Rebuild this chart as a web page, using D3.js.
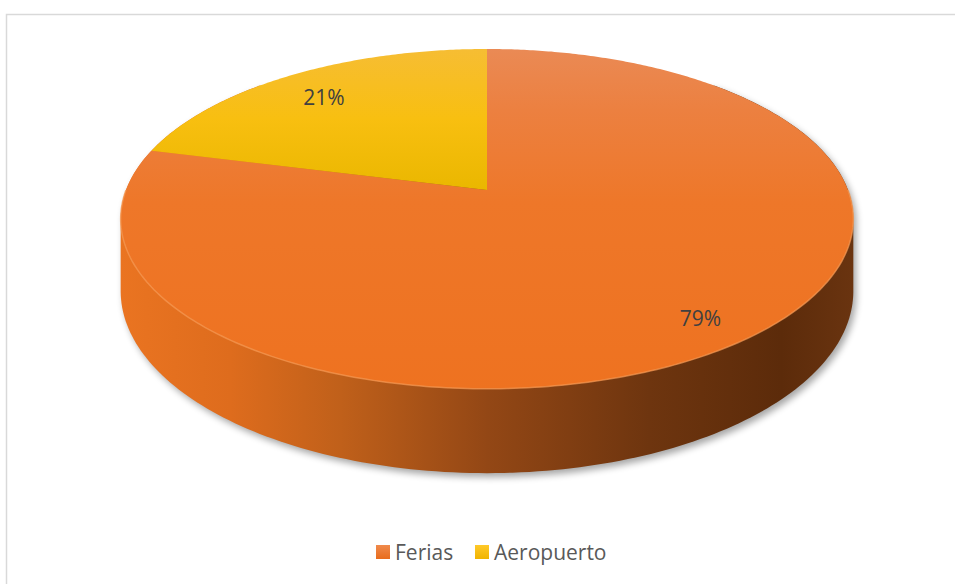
<!DOCTYPE html>
<html>
<head>
<meta charset="utf-8">
<script src="https://cdn.jsdelivr.net/npm/d3@7"></script>
<style>
  html, body { margin: 0; padding: 0; background: #fff; }
  svg { display: block; }
</style>
</head>
<body>
<div id="chart"></div>
<script>
// Share of visitors by location
const categories = ["Ferias", "Aeropuerto"];
const shares = [79, 21];
const labels = ["79%", "21%"];

const W = 955, H = 584;
const svg = d3.select("#chart").append("svg")
  .attr("width", W).attr("height", H);

const defs = svg.append("defs");

// chart area frame
svg.append("rect")
  .attr("x", 6.5).attr("y", 14.5)
  .attr("width", 1200).attr("height", 1200)
  .attr("fill", "#fff").attr("stroke", "#d9d9d9").attr("stroke-width", 1.5);

// perspective disc: u right, v away from the viewer
const cx = 487, cy0 = 190;   // projected centre of the disc
const k = 0.17;              // perspective strength
const sx = 361, sy = 165;    // horizontal / depth scales
const depth = 70;            // thickness of the disc

function proj(theta, r, h) {
  const u = r * Math.sin(theta), v = r * Math.cos(theta);
  const w = 1 + k * v;
  return [cx + sx * u / w, cy0 - sy * v / w + (h || 0) / w];
}

const pie = d3.pie().sort(null).value(d => d).startAngle(0).endAngle(2 * Math.PI);
const arcs = pie(shares);

// gradients
const sideGrad = defs.append("linearGradient").attr("id", "side")
  .attr("gradientUnits", "userSpaceOnUse")
  .attr("x1", 120).attr("x2", 855).attr("y1", 0).attr("y2", 0);
[[0, "#ea7421"], [0.15, "#de6c1d"], [0.3, "#c0601a"], [0.5, "#934715"],
 [0.72, "#6e350f"], [0.9, "#5c2b0a"], [1, "#6a3410"]]
  .forEach(([o, c]) => sideGrad.append("stop").attr("offset", o).attr("stop-color", c));

const orangeGrad = defs.append("linearGradient").attr("id", "gOrange")
  .attr("gradientUnits", "userSpaceOnUse")
  .attr("x1", 0).attr("x2", 0).attr("y1", 48).attr("y2", 392);
[[0, "#ea8a55"], [0.18, "#ec8040"], [0.45, "#ee7729"], [1, "#ee7220"]]
  .forEach(([o, c]) => orangeGrad.append("stop").attr("offset", o).attr("stop-color", c));

const yellowGrad = defs.append("linearGradient").attr("id", "gYellow")
  .attr("gradientUnits", "userSpaceOnUse")
  .attr("x1", 0).attr("x2", 0).attr("y1", 48).attr("y2", 190);
[[0, "#f6bd34"], [0.5, "#f8bf10"], [1, "#eab700"]]
  .forEach(([o, c]) => yellowGrad.append("stop").attr("offset", o).attr("stop-color", c));

const fills = ["url(#gOrange)", "url(#gYellow)"];
const legendFills = ["url(#lOrange)", "url(#lYellow)"];
[["lOrange", "#f08a4c", "#e86c1c"], ["lYellow", "#ffc929", "#f0b400"]].forEach(([id, a, b]) => {
  const g = defs.append("linearGradient").attr("id", id)
    .attr("x1", 0).attr("x2", 0).attr("y1", 0).attr("y2", 1);
  g.append("stop").attr("offset", 0).attr("stop-color", a);
  g.append("stop").attr("offset", 1).attr("stop-color", b);
});

const blur = defs.append("filter").attr("id", "shadow")
  .attr("x", "-10%").attr("y", "-10%").attr("width", "120%").attr("height", "130%");
blur.append("feGaussianBlur").attr("stdDeviation", 3.5);

// side wall: hull of the near rim at top and bottom
const rimPts = [];
for (let i = 0; i <= 240; i++) {
  const th = Math.PI * 0.25 + (Math.PI * 1.5) * i / 240;
  rimPts.push(proj(th, 1, 0));
  rimPts.push(proj(th, 1, depth));
}
const hull = d3.polygonHull(rimPts);
const line = d3.line().curve(d3.curveLinearClosed);

svg.append("path")
  .attr("d", line(hull.map(p => [p[0] + 3, p[1] + 4])))
  .attr("fill", "#000").attr("opacity", 0.35)
  .attr("filter", "url(#shadow)");

svg.append("path").attr("d", line(hull)).attr("fill", "url(#side)");

// top face slices
function slicePath(a0, a1) {
  const n = Math.max(8, Math.ceil((a1 - a0) / 0.01));
  const pts = [proj(0, 0, 0)];
  for (let i = 0; i <= n; i++) pts.push(proj(a0 + (a1 - a0) * i / n, 1, 0));
  return line(pts);
}

svg.selectAll("path.slice").data(arcs).enter().append("path")
  .attr("class", "slice")
  .attr("d", d => slicePath(d.startAngle, d.endAngle))
  .attr("fill", (d, i) => fills[i]);

// light rim along the front edge
const rim = [];
for (let i = 0; i <= 200; i++) {
  const th = Math.PI * 0.5 + Math.PI * i / 200;
  rim.push(proj(th, 1, 0));
}
svg.append("path").attr("d", d3.line()(rim))
  .attr("fill", "none").attr("stroke", "#f59a55").attr("stroke-width", 1.5).attr("opacity", 0.7);

// data labels
svg.selectAll("text.lbl").data(arcs).enter().append("text")
  .attr("class", "lbl")
  .attr("x", d => proj((d.startAngle + d.endAngle) / 2, 0.84, 0)[0] + 4)
  .attr("y", d => proj((d.startAngle + d.endAngle) / 2, 0.84, 0)[1] + 13)
  .attr("text-anchor", "middle")
  .attr("font-family", "'Open Sans', sans-serif")
  .attr("font-size", 21)
  .attr("fill", "#404040")
  .text((d, i) => labels[i]);

// legend
const legend = svg.append("g");
const legX = [376, 475];
categories.forEach((c, i) => {
  legend.append("rect").attr("x", legX[i]).attr("y", 545)
    .attr("width", 14).attr("height", 14).attr("fill", legendFills[i]);
  legend.append("text").attr("x", legX[i] + 19).attr("y", 559.5)
    .attr("font-family", "'Open Sans', sans-serif").attr("font-size", 21)
    .attr("fill", "#595959").text(c);
});
</script>
</body>
</html>
